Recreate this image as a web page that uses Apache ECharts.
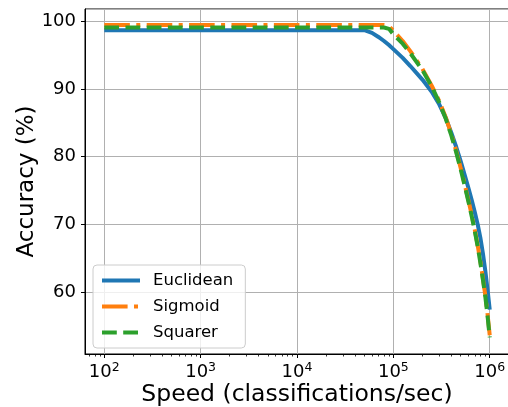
<!DOCTYPE html>
<html>
<head>
<meta charset="utf-8">
<script src="https://cdn.jsdelivr.net/npm/echarts@6/dist/echarts.min.js"></script>
<style>
  html, body { margin: 0; padding: 0; background: #fff; }
  #chart { width: 508px; height: 407px; }
</style>
</head>
<body>
<div id="chart"></div>
<script>
// speed in classifications/sec
const speeds = [100, 1e3, 1e4, 4e4, 5e4, 6e4, 7e4, 8e4, 9e4, 1e5, 1.25e5, 1.5e5, 2e5, 2.5e5, 3e5,
  3.5e5, 4e5, 4.5e5, 5e5, 5.5e5, 6e5, 6.5e5, 7e5, 7.5e5, 8e5, 8.5e5, 9e5, 9.5e5, 1e6];
const euclidean = [98.7, 98.7, 98.7, 98.7, 98.7, 98.3, 97.7, 97.1, 96.5, 95.9, 94.6, 93.4, 91.4, 89.6, 87.7,
  85.7, 83.5, 81.4, 79.3, 77.3, 75.4, 73.6, 71.8, 70.0, 68.0, 65.7, 63.1, 60.3, 57.4];
const sigmoid = [99.45, 99.45, 99.45, 99.45, 99.45, 99.45, 99.45, 99.45, 99.3, 98.6, 97.1, 95.6, 93.0, 90.5, 88.2,
  85.8, 83.3, 80.8, 78.3, 75.9, 73.6, 71.4, 69.2, 66.9, 64.5, 62.0, 59.5, 56.7, 53.6];
const squarer = [99.1, 99.1, 99.1, 99.1, 99.1, 99.1, 99.1, 99.1, 98.9, 98.1, 96.7, 95.3, 92.8, 90.4, 88.0,
  85.6, 83.1, 80.6, 78.1, 75.7, 73.4, 71.2, 69.0, 66.7, 64.3, 61.8, 59.3, 56.4, 53.3];

const seriesNames = ['Euclidean', 'Sigmoid', 'Squarer'];
const colors = ['#1f77b4', '#ff7f0e', '#2ca02c'];
const dashes = [null, [25.6, 6.4, 4, 6.4], [14.8, 6.4]];

const font = 'DejaVu Sans';
const xMin = Math.pow(10, 1.8);
const xMax = Math.pow(10, 6.2);

// minor tick positions 2..9 x 10^k
const minorTicks = [];
for (let k = 1; k <= 6; k++) {
  for (let m = 2; m <= 9; m++) {
    const v = m * Math.pow(10, k);
    if (v > xMin && v < xMax) minorTicks.push(v);
  }
}

const pairs = vals => speeds.map((s, i) => [s, vals[i]]);

const chart = echarts.init(document.getElementById('chart'));
chart.setOption({
  animation: false,
  textStyle: { fontFamily: font },
  grid: {
    left: 85,
    top: 9,
    width: 424,
    height: 345,
    outerBoundsMode: 'none',
    show: true,
    borderColor: '#000',
    borderWidth: 1,
    backgroundColor: 'transparent',
  },
  legend: {
    orient: 'vertical',
    left: 93,
    top: 265,
    padding: [7, 12, 7, 7],
    itemWidth: 38,
    itemHeight: 14,
    itemGap: 9,
    backgroundColor: 'rgba(255,255,255,0.8)',
    borderColor: '#cccccc',
    borderWidth: 1,
    borderRadius: 4,
    itemStyle: { opacity: 0 },
    lineStyle: { width: 4 },
    textStyle: {
      fontFamily: font,
      fontSize: 16.5,
      color: '#000',
      padding: [0, 0, 0, 8],
    },
    data: seriesNames,
  },
  xAxis: [
    {
      type: 'log',
      logBase: 10,
      min: xMin,
      max: xMax,
      name: 'Speed (classifications/sec)',
      nameLocation: 'middle',
      nameGap: 29,
      nameMoveOverlap: false,
      nameTextStyle: { fontFamily: font, fontSize: 23.5, color: '#000' },
      axisLine: { show: true, lineStyle: { color: '#000', width: 1 } },
      axisTick: { show: true, length: 4, lineStyle: { color: '#000', width: 1 } },
      splitLine: { show: true, lineStyle: { color: '#b0b0b0', width: 1 } },
      axisLabel: {
        showMinLabel: false,
        showMaxLabel: false,
        margin: 7,
        formatter: v => {
          const e = Math.log10(v);
          const r = Math.round(e);
          if (Math.abs(e - r) > 1e-6) return '';
          return '{b|10}{s|' + r + '}';
        },
        rich: {
          b: { fontFamily: font, fontSize: 18, color: '#000' },
          s: { fontFamily: font, fontSize: 12.5, color: '#000', verticalAlign: 'top', padding: [0, 0, 10, 0] },
        },
      },
    },
    {
      type: 'log',
      logBase: 10,
      min: xMin,
      max: xMax,
      position: 'bottom',
      axisLine: { show: false },
      axisLabel: { show: false },
      splitLine: { show: false },
      axisTick: {
        show: true,
        length: 2.5,
        customValues: minorTicks,
        lineStyle: { color: '#000', width: 0.8 },
      },
    },
  ],
  yAxis: {
    type: 'value',
    min: 50.84,
    max: 101.83,
    name: 'Accuracy (%)',
    nameLocation: 'middle',
    nameGap: 46,
    nameMoveOverlap: false,
    nameTextStyle: { fontFamily: font, fontSize: 23, color: '#000' },
    axisLine: { show: true, lineStyle: { color: '#000', width: 1 } },
    axisTick: { show: true, length: 4, lineStyle: { color: '#000', width: 1 } },
    splitLine: { show: true, lineStyle: { color: '#b0b0b0', width: 1 } },
    axisLabel: {
      margin: 9,
      fontFamily: font,
      fontSize: 18,
      color: '#000',
      showMinLabel: false,
      showMaxLabel: false,
      formatter: v => (Math.abs(v % 10) < 1e-6 ? String(v) : ''),
    },
  },
  series: seriesNames.map((name, i) => ({
    name,
    type: 'line',
    data: pairs([euclidean, sigmoid, squarer][i]),
    showSymbol: false,
    symbol: 'none',
    color: colors[i],
    lineStyle: dashes[i]
      ? { color: colors[i], width: 4, type: dashes[i] }
      : { color: colors[i], width: 4 },
  })),
});
</script>
</body>
</html>
